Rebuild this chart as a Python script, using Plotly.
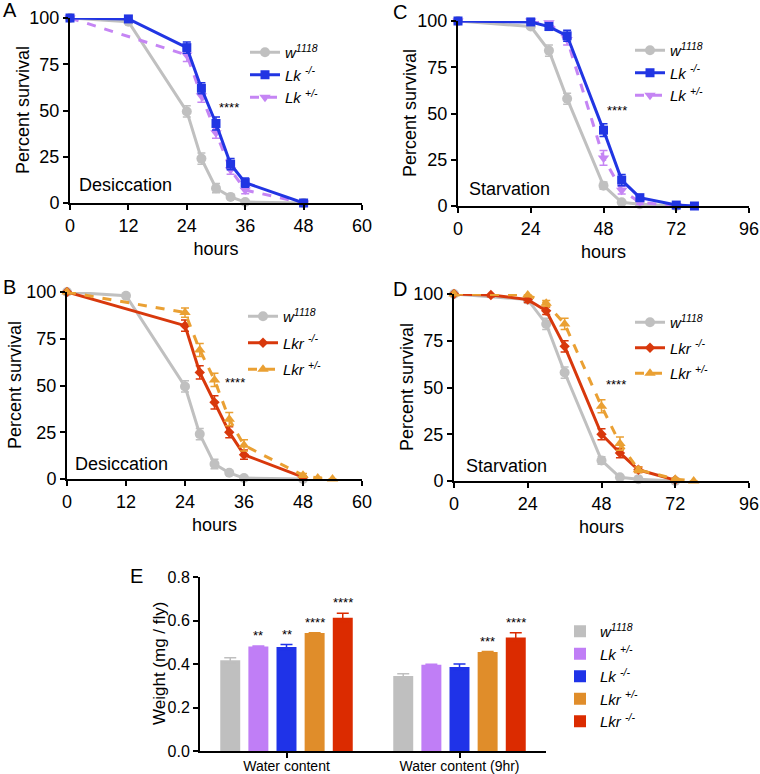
import plotly.graph_objects as go

FONT = "Liberation Sans, Arial, sans-serif"
W, H = 760, 774

# ---------------- data ----------------
# Desiccation (A, B) - control shared
desic_hours_w1118 = [0, 12, 24, 27, 30, 33, 36, 48]
desic_w1118 = [100, 98, 49.5, 24, 8, 3.3, 0.5, 0]
desic_w1118_err = [0, 0.5, 3, 3, 2.5, 1, 0.5, 0]

desic_hours_lk_mut = [0, 12, 24, 27, 30, 33, 36, 48]
desic_lk_mut = [100, 99.5, 84, 62, 43, 21, 11, 0]
desic_lk_mut_err = [0, 1, 3, 3, 3.5, 3, 2.5, 0]

desic_hours_lk_het = [0, 24, 27, 30, 33, 36, 48]
desic_lk_het = [100, 80, 58, 38, 18, 7, 0]
desic_lk_het_err = [0, 3.5, 3.5, 3, 2.5, 2, 0]

desic_hours_lkr_mut = [0, 24, 27, 30, 33, 36, 48]
desic_lkr_mut = [100, 82, 57, 41, 25, 13, 1]
desic_lkr_mut_err = [0, 3, 3.5, 3.5, 3, 2.5, 0.5]

desic_hours_lkr_het = [0, 24, 27, 30, 33, 36, 48, 51, 54]
desic_lkr_het = [100, 89, 69, 53, 32, 18, 2, 0.5, 0]
desic_lkr_het_err = [0, 2.5, 3.5, 3.5, 3.5, 3, 1, 0.5, 0]

# Starvation (C, D) - control shared
starv_hours_w1118 = [0, 24, 30, 36, 48, 54, 60, 72]
starv_w1118 = [100, 97, 84, 58, 11, 2, 1, 0]
starv_w1118_err = [0, 1, 3, 3, 2, 0.5, 0.5, 0]

starv_hours_lk_mut = [0, 24, 30, 36, 48, 54, 60, 72, 78]
starv_lk_mut = [100, 99.5, 97, 92, 41, 14, 4.5, 0.5, 0]
starv_lk_mut_err = [0, 1, 2, 3, 3.5, 3, 1.5, 0.5, 0]

starv_hours_lk_het = [0, 24, 30, 36, 48, 54, 60, 72]
starv_lk_het = [100, 100, 99, 90, 26, 8.5, 2, 0]
starv_lk_het_err = [0, 0.5, 2, 3, 4, 2, 1, 0]

starv_hours_lkr_mut = [0, 12, 24, 30, 36, 48, 54, 60, 72]
starv_lkr_mut = [100, 99.5, 97, 91, 72, 25, 15, 6, 0.5]
starv_lkr_mut_err = [0, 1, 1.5, 2, 3, 3, 2.5, 1.5, 0.5]

starv_hours_lkr_het = [0, 24, 30, 36, 48, 54, 60, 72, 78]
starv_lkr_het = [100, 99.5, 95, 84, 40, 20, 6, 1, 0]
starv_lkr_het_err = [0, 0.5, 1.5, 3, 3.5, 3.5, 1.5, 0.5, 0]

# Water content (E)
water_groups = ["Water content", "Water content (9hr)"]
water_genotypes = ["w1118", "Lk+/-", "Lk-/-", "Lkr+/-", "Lkr-/-"]
water_w1118 = [0.417, 0.345]
water_lk_het = [0.481, 0.397]
water_lk_mut = [0.478, 0.386]
water_lkr_het = [0.542, 0.455]
water_lkr_mut = [0.613, 0.522]
water_w1118_err = [0.012, 0.010]
water_lk_het_err = [0.002, 0.002]
water_lk_mut_err = [0.012, 0.014]
water_lkr_het_err = [0.002, 0.002]
water_lkr_mut_err = [0.020, 0.022]
water_sig = [["", "**", "**", "****", "****"], ["", "", "", "***", "****"]]

# ---------------- style ----------------
GREY = "#c0c0c0"
BLUE = "#2135e3"
PURPLE = "#c585f4"
RED = "#d8380c"
ORANGE = "#eaa033"
BAR_COLORS = ["#bfbfbf", "#c07ef6", "#1f33e8", "#e08d2a", "#db2b00"]

LBL_W = "<i>w<sup>1118</sup></i>"
LBL_LK_MUT = "<i>Lk <sup>-/-</sup></i>"
LBL_LK_HET = "<i>Lk <sup>+/-</sup></i>"
LBL_LKR_MUT = "<i>Lkr <sup>-/-</sup></i>"
LBL_LKR_HET = "<i>Lkr <sup>+/-</sup></i>"


def px_x(p):
    return p / W


def px_y(p):
    return 1 - p / H


fig = go.Figure()


def add_line(x, y, err, name, color, symbol, msize, dash, ax, legend, rank):
    fig.add_trace(go.Scatter(
        x=x, y=y, mode="lines+markers", name=name,
        line=dict(color=color, width=3, dash=dash),
        marker=dict(color=color, symbol=symbol, size=msize),
        error_y=dict(type="data", array=err, color=color, thickness=1.5, width=4),
        xaxis="x" + ax, yaxis="y" + ax, legend=legend, legendrank=rank,
        legendgroup=legend + str(rank),
        cliponaxis=False,
    ))


# A (axis index "" -> x/y), C -> 2, B -> 3, D -> 4, E -> 5
add_line(desic_hours_w1118, desic_w1118, desic_w1118_err, LBL_W, GREY, "circle", 10, "solid", "", "legend", 1)
add_line(desic_hours_lk_het, desic_lk_het, desic_lk_het_err, LBL_LK_HET, PURPLE, "triangle-down", 10, "dash", "", "legend", 3)
add_line(desic_hours_lk_mut, desic_lk_mut, desic_lk_mut_err, LBL_LK_MUT, BLUE, "square", 9, "solid", "", "legend", 2)

add_line(starv_hours_w1118, starv_w1118, starv_w1118_err, LBL_W, GREY, "circle", 10, "solid", "2", "legend2", 1)
add_line(starv_hours_lk_het, starv_lk_het, starv_lk_het_err, LBL_LK_HET, PURPLE, "triangle-down", 10, "dash", "2", "legend2", 3)
add_line(starv_hours_lk_mut, starv_lk_mut, starv_lk_mut_err, LBL_LK_MUT, BLUE, "square", 9, "solid", "2", "legend2", 2)

add_line(desic_hours_w1118, desic_w1118, desic_w1118_err, LBL_W, GREY, "circle", 10, "solid", "3", "legend3", 1)
add_line(desic_hours_lkr_mut, desic_lkr_mut, desic_lkr_mut_err, LBL_LKR_MUT, RED, "diamond", 8, "solid", "3", "legend3", 2)
add_line(desic_hours_lkr_het, desic_lkr_het, desic_lkr_het_err, LBL_LKR_HET, ORANGE, "triangle-up", 10, "dash", "3", "legend3", 3)

add_line(starv_hours_w1118, starv_w1118, starv_w1118_err, LBL_W, GREY, "circle", 10, "solid", "4", "legend4", 1)
add_line(starv_hours_lkr_mut, starv_lkr_mut, starv_lkr_mut_err, LBL_LKR_MUT, RED, "diamond", 8, "solid", "4", "legend4", 2)
add_line(starv_hours_lkr_het, starv_lkr_het, starv_lkr_het_err, LBL_LKR_HET, ORANGE, "triangle-up", 10, "dash", "4", "legend4", 3)

# E bars
bar_vals = [water_w1118, water_lk_het, water_lk_mut, water_lkr_het, water_lkr_mut]
bar_errs = [water_w1118_err, water_lk_het_err, water_lk_mut_err, water_lkr_het_err, water_lkr_mut_err]
bar_names = [LBL_W, LBL_LK_HET, LBL_LK_MUT, LBL_LKR_HET, LBL_LKR_MUT]
for i in range(5):
    fig.add_trace(go.Bar(
        x=water_groups, y=bar_vals[i], name=bar_names[i],
        marker=dict(color=BAR_COLORS[i], line=dict(width=0)),
        error_y=dict(type="data", array=bar_errs[i], color=BAR_COLORS[i], thickness=1.5, width=6),
        xaxis="x5", yaxis="y5", legend="legend5",
    ))

BARGAP = 0.187
BARGROUPGAP = 0.29

# ---------------- axes ----------------
panels = {
    "": (70, 362, 18, 203, [0, 60], [0, 12, 24, 36, 48, 60]),
    "2": (458, 749, 21, 206, [0, 96], [0, 24, 48, 72, 96]),
    "3": (67, 362, 292, 479, [0, 60], [0, 12, 24, 36, 48, 60]),
    "4": (454, 749, 294, 481, [0, 96], [0, 24, 48, 72, 96]),
}
# y-title centre positions (px)
ytitle_pos = {"": (23, 110), "2": (410, 113), "3": (15, 385), "4": (407, 387)}

axis_common = dict(showline=True, linecolor="black", linewidth=2, ticks="outside",
                   ticklen=5, tickwidth=2, tickcolor="black", showgrid=False,
                   zeroline=False, automargin=False,
                   tickfont=dict(size=18, color="black", family=FONT))

layout = dict(
    width=W, height=H, margin=dict(l=0, r=0, t=0, b=0, autoexpand=False),
    plot_bgcolor="white", paper_bgcolor="white",
    font=dict(family=FONT, color="black"),
    barmode="group", bargap=BARGAP, bargroupgap=BARGROUPGAP,
    showlegend=True,
)

for k, (x0, x1, yt, yb, xr, xt) in panels.items():
    layout["xaxis" + k] = dict(
        domain=[px_x(x0), px_x(x1)], range=xr, tickvals=xt,
        anchor="y" + k,
        title=dict(text="hours", font=dict(size=18), standoff=8),
        **axis_common)
    layout["yaxis" + k] = dict(
        domain=[px_y(yb), px_y(yt)], range=[0, 100], tickvals=[0, 25, 50, 75, 100],
        anchor="x" + k,
        **axis_common)

layout["xaxis5"] = dict(domain=[px_x(200), px_x(546)], anchor="y5",
                        showline=True, linecolor="black", linewidth=2, ticks="outside",
                        ticklen=5, tickwidth=2, tickcolor="black", showgrid=False,
                        automargin=False, ticklabelstandoff=-4,
                        tickfont=dict(size=14, color="black"))
e_axis = dict(axis_common)
e_axis["tickfont"] = dict(size=16, color="black", family=FONT)
layout["yaxis5"] = dict(domain=[px_y(751), px_y(577)], anchor="x5", range=[0, 0.8],
                        tickvals=[0, 0.2, 0.4, 0.6, 0.8], tickformat=".1f",
                        **e_axis)

# legends
def leg(xpx, ypx, size=15, gap=0, order="normal"):
    return dict(x=px_x(xpx), y=px_y(ypx), xanchor="left", yanchor="top",
                bgcolor="rgba(0,0,0,0)", font=dict(size=size, color="black"),
                tracegroupgap=gap, itemclick=False, traceorder=order)

layout["legend"] = leg(245, 36, 15, 0)
layout["legend2"] = leg(630, 34, 15, 0)
layout["legend3"] = leg(243, 300, 15, 4, "grouped")
layout["legend4"] = leg(630, 306, 15, 3, "grouped")
layout["legend5"] = leg(560, 615, 15, 0)

# annotations
ann = []
for k, (xp, yp) in ytitle_pos.items():
    ann.append(dict(text="Percent survival", x=px_x(xp), y=px_y(yp), xref="paper", yref="paper",
                    showarrow=False, textangle=-90, font=dict(size=18),
                    xanchor="center", yanchor="middle"))
ann.append(dict(text="Weight (mg / fly)", x=px_x(159), y=px_y(664), xref="paper", yref="paper",
                showarrow=False, textangle=-90, font=dict(size=17),
                xanchor="center", yanchor="middle"))
for k, xs, ys in [("", 32.6, 51.5), ("2", 52.3, 51.5), ("3", 34.2, 51.5), ("4", 52.6, 51.5)]:
    ann.append(dict(text="****", x=xs, y=ys, xref="x" + k, yref="y" + k, showarrow=False,
                    font=dict(size=13), xanchor="center", yanchor="middle"))
for k, xs, ys, txt in [("", 1.5, 10, "Desiccation"), ("2", 3, 9, "Starvation"),
                       ("3", 1.2, 8, "Desiccation"), ("4", 3.4, 8, "Starvation")]:
    ann.append(dict(text=txt, x=xs, y=ys, xref="x" + k, yref="y" + k, showarrow=False,
                    font=dict(size=18), xanchor="left", yanchor="middle"))
for txt, xpx, ypx in [("A", 10, 10), ("C", 400, 12), ("B", 9, 287), ("D", 400, 289), ("E", 136, 576)]:
    ann.append(dict(text=txt, x=px_x(xpx), y=px_y(ypx), xref="paper", yref="paper",
                    showarrow=False, font=dict(size=20), xanchor="center", yanchor="middle"))

# significance stars over bars
slot = (1 - BARGAP) / 5
for g in range(2):
    for i in range(5):
        s = water_sig[g][i]
        if s:
            ann.append(dict(text=s, x=g + (i - 2) * slot, y=bar_vals[i][g] + bar_errs[i][g] + 0.004,
                            xref="x5", yref="y5", showarrow=False, font=dict(size=13),
                            xanchor="center", yanchor="bottom"))

layout["annotations"] = ann
fig.update_layout(**layout)
fig.write_html("out.html", config={"displayModeBar": False},
               post_script="document.body.style.margin='0px';document.body.style.overflow='hidden';")
